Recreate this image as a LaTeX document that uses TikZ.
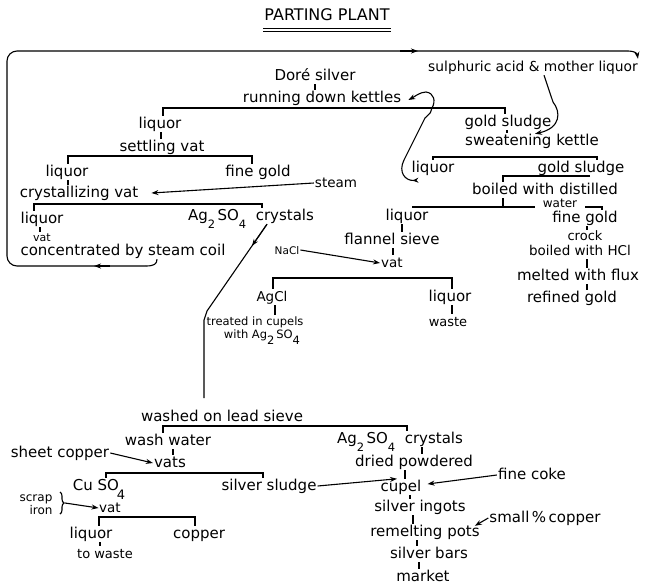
\documentclass[tikz,border=0pt]{standalone}
\usepackage{fontspec}
\setmainfont{DejaVu Sans}
\usetikzlibrary{arrows.meta,calc,decorations.pathreplacing}
\newcommand{\lsub}[1]{\raisebox{-0.55em}{\fontsize{11.5}{12}\selectfont #1}}
\newcommand{\fs}[1]{\fontsize{#1}{#1}\selectfont}
\begin{document}
\begin{tikzpicture}[x=1pt,y=-1pt,
  txt/.style={font=\fs{15}, inner sep=1pt, text height=11pt, text depth=3pt},
  ln/.style={line width=1.1pt},
  arr/.style={line width=1.1pt, -{Stealth[length=7pt,width=5pt]}},
]
\useasboundingbox (0,0) rectangle (653,587);
\newcommand{\vtick}[3]{\draw[ln] ($(#1.south)+(#3,0)$) -- ($(#1.south |- #2.north)+(#3,0)$);}

% title
\node[font=\fs{16}, inner sep=1pt] (title) at (327,15) {PARTING PLANT};
\draw[line width=1pt] ($(title.south west)+(0,6)$) -- ($(title.south east)+(0,6)$);
\draw[line width=0.5pt] ($(title.south west)+(0,8.5)$) -- ($(title.south east)+(0,8.5)$);

% upper part
\node[txt] (dore) at (315,76) {Doré silver};
\node[txt] (rdk) at (322,98) {running down kettles};
\node[txt, font=\fs{13.8}] (sulph) at (533,67) {sulphuric acid \& mother liquor};
\node[txt] (liqA) at (160,124) {liquor};
\node[txt] (gsA) at (508,122) {gold sludge};
\node[txt] (setv) at (162,147) {settling vat};
\node[txt] (swk) at (532,141) {sweatening kettle};
\node[txt] (liqB) at (67,172) {liquor};
\node[txt] (fgA) at (258,172) {fine gold};
\node[txt] (liqC) at (433,168) {liquor};
\node[txt] (gsB) at (581,168) {gold sludge};
\node[txt] (cryv) at (79,193) {crystallizing vat};
\node[txt, font=\fs{13.5}] (steam) at (336,183) {steam};
\node[txt] (boil) at (545,190) {boiled with distilled};
\node[txt, font=\fs{12}, text height=7pt, text depth=0pt, inner sep=0pt, anchor=base] (water) at (560,207) {water};
\node[txt] (liqE) at (42,219) {liquor};
\node[txt] (agso1) at (251,216) {Ag\lsub{2}\,SO\lsub{4}\ \ crystals};
\node[txt] (liqD) at (407,216) {liquor};
\node[txt] (fgB) at (585,218) {fine gold};
\node[txt, font=\fs{11}, text height=8pt, text depth=0pt, anchor=base] (vatB) at (42,241) {vat};
\node[txt] (flan) at (392,240) {flannel sieve};
\node[txt, font=\fs{13}, text height=10pt, text depth=0pt, inner sep=0pt, anchor=base] (crock) at (585,240) {crock};
\node[txt, font=\fs{13.5}, text height=10pt, anchor=base] (hcl) at (580,255) {boiled with HCl};
\node[txt, font=\fs{10.5}] (nacl) at (287,250) {NaCl};
\node[txt] (conc) at (123,251) {concentrated by steam coil};
\node[txt, font=\fs{13.5}] (vatA) at (392,263) {vat};
\node[txt] (melt) at (578,276) {melted with flux};
\node[txt, font=\fs{13.5}] (agcl) at (272,297) {AgCl};
\node[txt] (liqF) at (450,297) {liquor};
\node[txt] (refg) at (572,298) {refined gold};
\node[txt, font=\fs{11.5}, text height=9pt, text depth=2.5pt, inner sep=0.5pt, anchor=base] (treat) at (255,325) {treated in cupels};
\node[txt, font=\fs{13}] (waste) at (448,322) {waste};
\node[txt, font=\fs{11.5}, text height=9pt, text depth=0pt, inner sep=0.5pt, anchor=base] (with) at (262,338) {with Ag\lsub{2}\,SO\lsub{4}};

% lower part
\node[txt] (wash) at (222,417) {washed on lead sieve};
\node[txt] (washw) at (168,441) {wash water};
\node[txt] (agso2) at (400,439) {Ag\lsub{2}\,SO\lsub{4}\ \ crystals};
\node[txt] (sheet) at (60,453) {sheet copper};
\node[txt] (vats) at (170,463) {vats};
\node[txt] (dried) at (414,462) {dried powdered};
\node[txt] (fcoke) at (532,475) {fine coke};
\node[txt] (cuso) at (99,486) {Cu SO\kern-2pt\raisebox{-0.6em}{\fs{13}4}};
\node[txt] (ssl) at (269,486) {silver sludge};
\node[txt] (cupel) at (401,487) {cupel};
\node[txt, font=\fs{12}, text height=8.5pt, text depth=2pt, inner sep=0.5pt, anchor=base] (scrap) at (36,501) {scrap};
\node[txt, font=\fs{12}, text height=9pt, text depth=0pt, inner sep=0.5pt, anchor=base] (iron) at (41,514) {iron};
\node[txt, font=\fs{13.5}, text height=8pt, text depth=0pt, inner sep=0.5pt, anchor=base] (vatC) at (110,512) {vat};
\node[txt] (sing) at (420,507) {silver ingots};
\node[txt] (smc) at (545,518) {small\,\%\,copper};
\node[txt] (rpots) at (425,532) {remelting pots};
\node[txt] (liqG) at (91,534) {liquor};
\node[txt] (copper) at (199,534) {copper};
\node[txt] (sbars) at (429,554) {silver bars};
\node[txt, font=\fs{13}] (towaste) at (105,554) {to waste};
\node[txt] (market) at (423,577) {market};

% bracket junctions
\coordinate (j1) at (432,108);
\coordinate (j2) at (160,156);
\coordinate (j3) at (150,204);
\coordinate (j4) at (510,157);
\coordinate (j5) at (590,176);
\coordinate (j6a) at (535,207);
\coordinate (j6b) at (585,207);
\coordinate (j7) at (360,278);
\coordinate (j8) at (280,426);
\coordinate (j9) at (180,473);
\coordinate (j10) at (150,517);

\draw[ln] ($(liqA.north)+(3,0)$) |- (j1) -| ($(gsA.north)+(-3,0)$);
\draw[ln] ($(liqB.north)+(1,0)$) |- (j2) -| ($(fgA.north)+(-6,0)$);
\draw[ln] ($(liqE.north)+(-8,0)$) |- (j3) -| ($(agso1.north)+(11,0)$);
\draw[ln] (liqC.north) |- (j4) -| ($(gsB.north)+(16,0)$);
\draw[ln] (j5) -| ($(boil.north)+(-42,0)$);
\coordinate (t6) at ($(boil.south)+(-42,0)$);
\draw[ln] (t6) -- (t6 |- j6a);
\draw[ln] ($(liqD.north)+(6,0)$) |- (j6a);
\draw[ln] (j6b) -| ($(fgB.north)+(17,0)$);
\draw[ln] ($(agcl.north)+(1,0)$) |- (j7) -| ($(liqF.north)+(2,0)$);
\draw[ln] ($(washw.north)+(-5,0)$) |- (j8) -| ($(agso2.north)+(7,0)$);
\draw[ln] ($(cuso.north)+(7,0)$) |- (j9) -| ($(ssl.north)+(-6,0)$);
\draw[ln] ($(liqG.north)+(8,0)$) |- (j10) -| ($(copper.north)+(-4,0)$);

% ticks
\vtick{dore}{rdk}{0}
\vtick{liqA}{setv}{1}
\vtick{gsA}{swk}{-1}
\vtick{liqB}{cryv}{1}
\vtick{liqE}{vatB}{-2}
\vtick{liqD}{flan}{-5}
\vtick{flan}{vatA}{1}
\vtick{fgB}{crock}{2}
\vtick{hcl}{melt}{7}
\vtick{melt}{refg}{9}
\vtick{agcl}{treat}{3}
\vtick{liqF}{waste}{2}
\vtick{washw}{vats}{5}
\vtick{agso2}{dried}{22}
\vtick{dried}{cupel}{-9}
\vtick{cupel}{sing}{9}
\vtick{sing}{rpots}{-7}
\vtick{rpots}{sbars}{-8}
\vtick{sbars}{market}{-10}
\vtick{liqG}{towaste}{9}

% arrows
\draw[arr] (steam.west) -- ($(cryv.east)+(12,0)$);
\draw[arr] (nacl.east) -- (vatA.west);
\draw[arr] (sheet.east) -- (vats.west);
\draw[arr] (ssl.east) -- ($(cupel.north)+(-4,0)$);
\draw[arr] (fcoke.west) -- ($(cupel.east)+(5,-3)$);
\draw[arr] (smc.west) -- ($(rpots.north east)+(-6,2)$);
\coordinate (br1) at (60,492);
\coordinate (br2) at (60,514);
\coordinate (bt) at (65,503);
\draw[ln, decorate, decoration={brace, amplitude=4pt}] (br1) -- (br2);
\draw[arr] (bt) -- (vatC.west);

% liquor back to running down kettles
\draw[ln, {Stealth[length=6pt,width=5pt,reversed]}-{Stealth[length=7pt,width=5pt]}]
  ($(liqC.south west)+(8,4)$) .. controls (405,181) and (398,172) .. (404,160)
  -- (425,118) .. controls (430,113) and (432,112) .. (j1)
  .. controls (436,101) and (434,93) .. (426,92)
  .. controls (420,92) and (414,97) .. ($(rdk.east)+(6,2)$);

% sulphuric acid to sweatening kettle
\draw[arr] ($(sulph.south)+(11,0)$) -- (553,102) .. controls (561,112) and (561,128) .. ($(swk.north)+(3,1)$);

% Ag2SO4 crystals to washing
\coordinate (c1) at ($(agso1.south)+(16,0)$);
\coordinate (c2) at (207,311);
\coordinate (c3) at (204,320);
\coordinate (c4) at (204,398);
\draw[ln] (c1) -- (c2) -- (c3) -- (c4);
\draw[arr] (c1) -- ($(c1)!0.25!(c2)$);

% big return loop
\coordinate (L0) at ($(conc.south)+(34,0)$);
\coordinate (L1) at (146,266);
\coordinate (L2) at (7,266);
\coordinate (L3) at (7,51);
\coordinate (L4) at (628,51);
\draw[ln] (L0) .. controls (157,264) and (154,266) .. (L1);
\draw[ln, rounded corners=10pt] (L1) -- (L2) -- (L3) -- (L4);
\draw[arr] (L4) .. controls (634,51) and (637,53) .. ($(sulph.north east)+(-1,0)$);
\draw[arr] (110,266) -- (94,266);
\draw[arr] (400,51) -- (418,51);
\end{tikzpicture}
\end{document}
